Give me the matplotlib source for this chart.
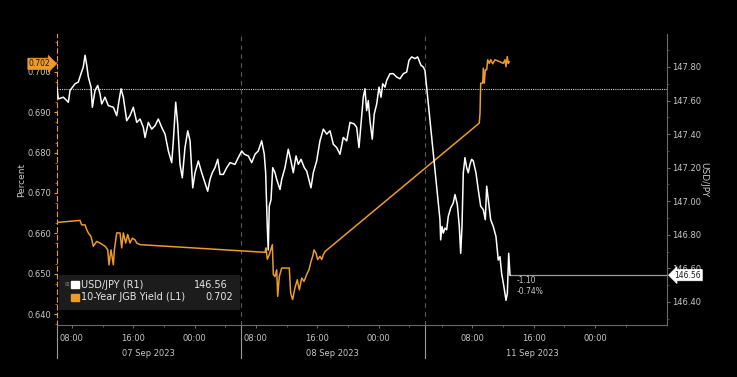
import matplotlib
matplotlib.use("Agg")
import matplotlib.pyplot as plt
import numpy as np

# ---------------- data ----------------
# time axis: trading hours on the compressed Bloomberg axis (0 = start of 07 Sep session)
usdjpy_t = [0.03, 0.23, 0.89, 1.33, 1.54, 1.76, 2.41, 2.84, 3.19, 3.49, 3.72, 3.94, 4.15, 4.50, 4.67,
            5.02, 5.37, 5.67, 5.89, 6.32, 6.75, 7.41, 7.85, 8.15, 8.41, 8.71, 9.15, 9.58, 10.01, 10.46,
            10.89, 11.32, 11.54, 11.97, 12.41, 12.84, 13.27, 13.72, 14.15, 14.58, 15.02, 15.23, 15.54,
            15.80, 16.10, 16.40, 16.75, 17.11, 17.41, 17.76, 18.06, 18.49, 18.93, 19.36, 19.71, 20.01,
            20.31, 20.66, 21.02, 21.32, 21.75, 22.19, 22.62, 23.27, 23.70, 24.15, 24.49, 25.01, 25.45,
            25.88, 26.31, 26.75, 27.09, 27.27, 27.48, 27.61, 27.74, 27.97, 28.19, 28.49, 28.71, 29.14,
            29.36, 29.79, 30.22, 30.57, 30.87, 31.23, 31.53, 31.88, 32.31, 32.62, 33.18, 33.48, 33.92,
            34.35, 34.79, 35.23, 35.66, 36.09, 36.53, 36.96, 37.39, 37.84, 38.27, 38.83, 39.14, 39.44,
            39.70, 40.00, 40.22, 40.44, 40.65, 40.87, 41.17, 41.43, 41.75, 42.05, 42.31, 42.53, 42.83,
            43.05, 43.48, 43.91, 44.36, 44.78, 45.22, 45.66, 45.96, 46.31, 46.74, 47.09, 47.52, 47.82,
            48.04, 50.00, 50.09, 50.26, 50.43, 50.65, 50.87, 51.08, 51.40, 51.73, 51.96, 52.26, 52.52,
            52.70, 52.87, 53.04, 53.26, 53.48, 53.69, 53.91, 54.13, 54.34, 54.69, 54.99, 55.31, 55.65,
            55.91, 56.09, 56.30, 56.61, 56.95, 57.30, 57.60, 57.82, 58.04, 58.34, 58.61, 58.78, 58.96,
            59.13]
usdjpy = [147.69, 147.61, 147.62, 147.60, 147.59, 147.66, 147.70, 147.71, 147.76, 147.80, 147.87,
          147.81, 147.74, 147.68, 147.56, 147.66, 147.69, 147.64, 147.58, 147.62, 147.57, 147.56,
          147.51, 147.60, 147.67, 147.62, 147.48, 147.51, 147.56, 147.47, 147.49, 147.44, 147.38,
          147.47, 147.43, 147.45, 147.49, 147.44, 147.40, 147.30, 147.23, 147.36, 147.59, 147.46,
          147.22, 147.14, 147.32, 147.42, 147.36, 147.08, 147.17, 147.24, 147.17, 147.11, 147.06,
          147.13, 147.17, 147.20, 147.25, 147.16, 147.16, 147.20, 147.23, 147.22, 147.26, 147.30,
          147.28, 147.27, 147.23, 147.28, 147.30, 147.36, 147.28, 147.17, 146.85, 146.71, 146.97,
          147.01, 147.20, 147.17, 147.13, 147.07, 147.13, 147.20, 147.31, 147.24, 147.17, 147.27,
          147.22, 147.25, 147.20, 147.18, 147.08, 147.17, 147.24, 147.36, 147.43, 147.40, 147.42,
          147.34, 147.32, 147.28, 147.38, 147.36, 147.47, 147.46, 147.44, 147.32, 147.46, 147.62,
          147.67, 147.54, 147.60, 147.48, 147.37, 147.52, 147.58, 147.68, 147.62, 147.70, 147.68,
          147.72, 147.76, 147.76, 147.74, 147.73, 147.76, 147.77, 147.84, 147.86, 147.85, 147.86,
          147.81, 147.80, 147.78, 146.89, 146.77, 146.85, 146.81, 146.84, 146.83, 146.91, 146.96,
          146.99, 147.04, 146.98, 146.85, 146.69, 146.85, 147.17, 147.26, 147.20, 147.17, 147.22,
          147.25, 147.24, 147.17, 147.07, 146.97, 146.95, 146.89, 147.09, 147.01, 146.89, 146.85,
          146.79, 146.65, 146.67, 146.57, 146.49, 146.41, 146.45, 146.69, 146.56]

jgb_t = [0.03, 3.06, 3.28, 3.72, 3.94, 4.15, 4.50, 4.80, 5.24, 5.67, 6.32, 6.68, 6.84, 7.11, 7.41,
         7.54, 7.85, 8.28, 8.50, 8.71, 9.02, 9.28, 9.58, 9.88, 10.23, 10.46, 10.89, 27.18, 27.31,
         27.48, 27.74, 27.93, 28.14, 28.27, 28.49, 28.71, 28.84, 29.05, 29.36, 30.35, 30.53, 30.79,
         31.09, 31.39, 31.66, 31.97, 32.27, 32.62, 32.92, 33.18, 33.40, 33.57, 33.83, 34.05, 34.35,
         34.58, 34.79, 35.01, 55.12, 55.22, 55.31, 55.57, 55.65, 55.78, 55.91, 56.09, 56.22, 56.43,
         56.61, 56.87, 57.17, 57.82, 58.25, 58.47, 58.60, 58.77, 58.90, 59.03]
jgb = [0.6627, 0.6632, 0.6621, 0.6621, 0.6609, 0.6601, 0.6592, 0.6568, 0.6580, 0.6576, 0.6568,
       0.6559, 0.6522, 0.6559, 0.6522, 0.6559, 0.6601, 0.6601, 0.6564, 0.6601, 0.6576, 0.6597,
       0.6576, 0.6588, 0.6584, 0.6576, 0.6572, 0.6553, 0.6564, 0.6536, 0.6547, 0.6559, 0.6572,
       0.6498, 0.6493, 0.6510, 0.6444, 0.6493, 0.6514, 0.6514, 0.6452, 0.6436, 0.6465, 0.6485,
       0.6460, 0.6489, 0.6481, 0.6498, 0.6510, 0.6530, 0.6543, 0.6559, 0.6551, 0.6535, 0.6543,
       0.6535, 0.6547, 0.6555, 0.6873, 0.6898, 0.6972, 0.6972, 0.7009, 0.6972, 0.7005, 0.7005,
       0.7030, 0.7021, 0.7030, 0.7020, 0.7030, 0.7025, 0.7021, 0.7030, 0.7013, 0.7038, 0.7021,
       0.7025]

day_labels = ["07 Sep 2023", "08 Sep 2023", "11 Sep 2023"]
session_open_clock = [6.0, 6.0, 1.8]      # clock hour at which each day segment starts
hour_labels = ["08:00", "16:00", "00:00"]
hour_clock = [8, 16, 24]
left_ticks = [0.640, 0.650, 0.660, 0.670, 0.680, 0.690, 0.700]
right_ticks = [146.40, 146.60, 146.80, 147.00, 147.20, 147.40, 147.60, 147.80]
prev_close = 147.666
last_usdjpy = 146.56
last_jgb = 0.702
chg_abs = "-1.10"
chg_pct = "-0.74%"

# ---------------- styling ----------------
BG = "black"
TXT = "#c8c8c8"
ORANGE = "#ec9a2a"
GRID = "#6a6a6a"

fig = plt.figure(figsize=(7.37, 3.77), dpi=100, facecolor=BG)
ax = fig.add_axes([0.0767, 0.138, 0.8283, 0.772], facecolor=BG)
ax2 = ax.twinx()

XMAX = 79.6
ax.set_xlim(0, XMAX)
ax.set_ylim(0.6373, 0.7094)
ax2.set_ylim(146.263, 147.997)

# series
ax.plot(jgb_t, jgb, color=ORANGE, lw=1.1, zorder=3)
ax2.plot(usdjpy_t, usdjpy, color="white", lw=1.1, zorder=4)

# previous close dotted line & last-value line
ax2.axhline(prev_close, color="#d0d0d0", lw=0.8, ls=(0, (1, 1)), zorder=2)
ax2.plot([usdjpy_t[-1], XMAX], [last_usdjpy, last_usdjpy], color="#9a9a9a", lw=0.9, zorder=2)
ax2.text(usdjpy_t[-1] + 0.8, last_usdjpy - 0.035, chg_abs, color=TXT, fontsize=5.5, va="center")
ax2.text(usdjpy_t[-1] + 0.8, last_usdjpy - 0.095, chg_pct, color=TXT, fontsize=5.5, va="center")

# day separators
n_days = len(day_labels)
for i in range(1, n_days):
    ax.axvline(24 * i, color="#5a5a5a", lw=0.8, ls=(0, (4, 4)), zorder=1)
for i in range(n_days):
    ax.axvline(24 * i, ymin=-0.115, ymax=0, color="#9a9a9a", lw=0.8, clip_on=False)

# x ticks
xt, xl = [], []
for i in range(n_days):
    for lab, c in zip(hour_labels, hour_clock):
        xt.append(24 * i + c - session_open_clock[i])
        xl.append(lab)
ax.set_xticks(xt)
ax.set_xticklabels(xl)
minor = []
for i in range(n_days):
    for c in range(4, 32, 4):
        minor.append(24 * i + c - session_open_clock[i])
ax.set_xticks([m for m in minor if 0 < m < XMAX], minor=True)
for i, d in enumerate(day_labels):
    ax.text(24 * i + 12 + (2.0 if i == 2 else 0), -0.083, d, transform=ax.get_xaxis_transform(),
            color=TXT, fontsize=6, ha="center", va="top")

# axes styling
ax.set_yticks(left_ticks)
ax.set_yticklabels([f"{v:.3f}" for v in left_ticks])
ax2.set_yticks(right_ticks)
ax2.set_yticklabels([f"{v:.2f}" for v in right_ticks])
ax.set_yticks(np.arange(0.6375, 0.7094, 0.005), minor=True)
ax2.set_yticks(np.arange(146.30, 147.997, 0.10), minor=True)

ax.tick_params(axis="x", colors=GRID, labelcolor=TXT, labelsize=6, length=2.5, width=0.8, pad=4)
ax.tick_params(axis="x", which="minor", colors=GRID, length=1.5, width=0.6)
ax.tick_params(axis="y", colors=ORANGE, labelcolor=TXT, labelsize=6, length=2.5, width=0.8, pad=1.5)
ax.tick_params(axis="y", which="minor", colors=ORANGE, length=1.2, width=0.5)
ax2.tick_params(axis="y", colors=GRID, labelcolor=TXT, labelsize=6, length=2.5, width=0.8, pad=1.5)
ax2.tick_params(axis="y", which="minor", colors=GRID, length=1.2, width=0.5)

for a in (ax, ax2):
    for s in a.spines.values():
        s.set_visible(False)
ax.spines["bottom"].set_visible(True)
ax.spines["bottom"].set_color(GRID)
ax.spines["bottom"].set_linewidth(0.8)
ax.spines["left"].set_visible(True)
ax.spines["left"].set_color(ORANGE)
ax.spines["left"].set_linewidth(0.8)
ax.spines["left"].set_linestyle((0, (4, 3)))
ax2.spines["right"].set_visible(True)
ax2.spines["right"].set_color(GRID)
ax2.spines["right"].set_linewidth(0.8)

ax.set_ylabel("Percent", color=TXT, fontsize=6.5, labelpad=1)
ax2.set_ylabel("USD/JPY", color=TXT, fontsize=6.5, rotation=270, labelpad=5)

# last-value tags
ax.annotate(f"{last_jgb:.3f}", xy=(0, last_jgb), xycoords=("axes fraction", "data"),
            xytext=(-12, 0), textcoords="offset points", ha="center", va="center",
            fontsize=5.5, color="#1a1a1a", annotation_clip=False, zorder=10,
            bbox=dict(boxstyle="rarrow,pad=0.15", fc=ORANGE, ec=ORANGE, lw=0.5))
ax2.annotate(f"{last_usdjpy:.2f}", xy=(1, last_usdjpy), xycoords=("axes fraction", "data"),
             xytext=(15, 0), textcoords="offset points", ha="center", va="center",
             fontsize=5.5, color="#1a1a1a", annotation_clip=False, zorder=10,
             bbox=dict(boxstyle="larrow,pad=0.15", fc="white", ec="white", lw=0.5))

# legend box
leg = fig.add_axes([59 / 737, 1 - 310 / 377, (240 - 59) / 737, (310 - 275) / 377])
leg.set_facecolor("#1c1c1c")
leg.set_xlim(0, 1)
leg.set_ylim(0, 1)
leg.set_xticks([])
leg.set_yticks([])
for s in leg.spines.values():
    s.set_visible(False)
leg.text(0.03, 0.72, "\u229e", color="#777777", fontsize=4, va="center")
leg.add_patch(plt.Rectangle((0.068, 0.62), 0.04, 0.2, color="white"))
leg.add_patch(plt.Rectangle((0.068, 0.27), 0.04, 0.2, color=ORANGE))
leg.text(0.12, 0.72, "USD/JPY (R1)", color="#e6e6e6", fontsize=7, va="center")
leg.text(0.12, 0.37, "10-Year JGB Yield (L1)", color="#e6e6e6", fontsize=7, va="center")
leg.text(0.93, 0.72, f"{last_usdjpy:.2f}", color="#e6e6e6", fontsize=7, va="center", ha="right")
leg.text(0.96, 0.37, f"{last_jgb:.3f}", color="#e6e6e6", fontsize=7, va="center", ha="right")

fig.savefig("out.png", dpi=100, facecolor=BG)
